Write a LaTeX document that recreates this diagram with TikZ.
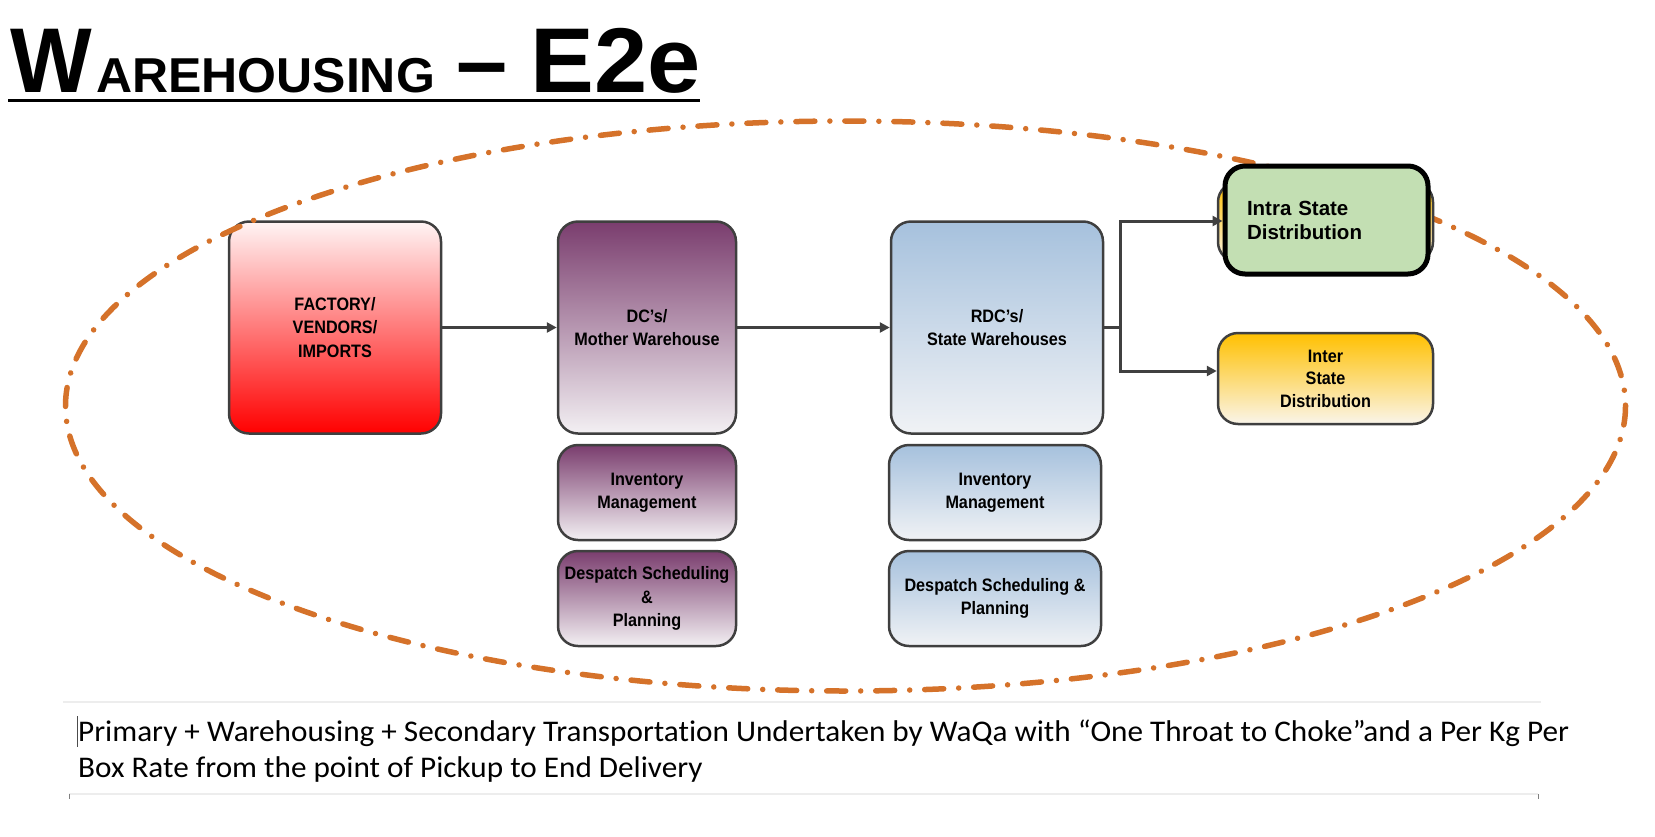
\documentclass[tikz,border=0pt]{standalone}
\usepackage{fontspec}
\usepackage{graphicx}
\setmainfont{Liberation Sans}
\newfontfamily\nar[FakeStretch=0.9]{Liberation Sans}
\newfontfamily\ars{Liberation Sans}
\newfontfamily\carl[FakeStretch=1.04,Ligatures=NoCommon]{Carlito}
\usetikzlibrary{arrows.meta,calc}
\definecolor{boxgray}{HTML}{3F3F3F}
\definecolor{arrgray}{HTML}{404040}
\definecolor{ellorange}{HTML}{D5722A}
\definecolor{facttop}{HTML}{FFF4F4}
\definecolor{factbot}{HTML}{FF0000}
\definecolor{dctop}{HTML}{7A3D6E}
\definecolor{dcbot}{HTML}{F3F0F3}
\definecolor{rdctop}{HTML}{A6C1DD}
\definecolor{rdcbot}{HTML}{F0F2F5}
\definecolor{intfill}{HTML}{C3DFB3}
\definecolor{yeltop}{HTML}{FFC000}
\definecolor{yelbot}{HTML}{FAF5EA}
\definecolor{faint}{HTML}{EDEDED}
\begin{document}
\begin{tikzpicture}[x=1pt,y=-1pt,
  box/.style={draw=boxgray, line width=2.5pt, rounded corners=20pt, align=center,
    inner sep=0pt, font=\nar\bfseries\fontsize{18}{23.3}\selectfont},
  bigbox/.style={box, minimum width=212pt, minimum height=212pt},
  smallbox/.style={box, minimum height=95pt},
  dcshade/.style={top color=dctop, bottom color=dcbot},
  rdcshade/.style={top color=rdctop, bottom color=rdcbot},
  arr/.style={draw=arrgray, line width=3pt, -{Triangle[length=10pt,width=10pt]}},
  conn/.style={draw=arrgray, line width=3pt},
  ellip/.style={draw=ellorange, line width=5.5pt, line cap=round,
    dash pattern=on 19pt off 15pt on 0.01pt off 15pt},
  titlepart/.style={anchor=base west, inner sep=0pt, font=\ars\bfseries}]
\useasboundingbox (0,0) rectangle (1655,836);

% title
\node[titlepart, font=\ars\bfseries\fontsize{92}{92}\selectfont] (tW) at (10,92) {\scalebox{0.94}[1]{W}};
\node[titlepart, font=\ars\bfseries\fontsize{49}{49}\selectfont] (tA) at (96,92) {\scalebox{1.02}[1]{AREHOUSING}};
\node[titlepart, font=\ars\bfseries\fontsize{92}{92}\selectfont] (tD) at (456,92) {–};
\node[titlepart, font=\ars\bfseries\fontsize{92}{92}\selectfont] (tE) at (530,92) {\scalebox{1.04}[1]{E2e}};
\coordinate (ulL) at (8,100);
\coordinate (ulR) at (700,100);
\draw[line width=3pt] (ulL) -- (ulR);

% main boxes
\node[bigbox, top color=facttop, bottom color=factbot] (factory) at (335,327.5) {FACTORY/\\VENDORS/\\IMPORTS};

% dash-dot ellipse
\draw[ellip] (845.5,406) ellipse [x radius=780, y radius=285];

\node[bigbox, dcshade, minimum width=178pt] (dc) at (647,327.5) {DC’s/\\Mother Warehouse};
\node[bigbox, rdcshade] (rdc) at (997,327.5) {RDC’s/\\State Warehouses};

\node[smallbox, dcshade, minimum width=178pt] (dcinv) at (647,492.5) {Inventory\\Management};
\node[smallbox, dcshade, minimum width=178pt] (dcdes) at (647,598.5) {Despatch Scheduling\\\&\\Planning};
\node[smallbox, rdcshade, minimum width=212pt] (rdcinv) at (995,492.5) {Inventory\\Management};
\node[smallbox, rdcshade, minimum width=212pt] (rdcdes) at (995,598.5) {Despatch Scheduling \&\\Planning};

% intra state (with yellow box behind)
\node[box, top color=yeltop, bottom color=yelbot, minimum width=215pt, minimum height=80pt] (intraback) at (1325.5,222) {};
\node[draw=black, line width=5pt, rounded corners=20pt, fill=intfill, minimum width=203pt, minimum height=108pt,
  inner sep=0pt, text width=159pt, align=left, font=\ars\bfseries\fontsize{20.5}{24}\selectfont] (intra) at (1326.5,220) {Intra State\\Distribution};

\node[box, top color=yeltop, bottom color=yelbot, minimum width=215pt, minimum height=91pt,
  font=\nar\bfseries\fontsize{18}{22.5}\selectfont] (inter) at (1325.5,378.5) {Inter\\State\\Distribution};

% connectors
\draw[arr] (factory.east) -- (dc.west);
\draw[arr] (dc.east) -- (rdc.west);
\coordinate (br) at (1120,327.5);
\draw[conn] (rdc.east) -- (br);
\draw[arr] (br) |- ($(intra.west)+(0,1)$);
\draw[arr] (br) |- ($(inter.west)+(0,-7.5)$);

% bottom text area
\coordinate (fa1) at (63,702);
\coordinate (fa2) at (1541,702);
\draw[faint, line width=1.5pt] (fa1) -- (fa2);
\coordinate (fb1) at (69,794);
\coordinate (fb2) at (1538,794);
\draw[faint, line width=1.5pt] (fb1) -- (fb2);
\coordinate (tk1) at (69,799);
\coordinate (tk2) at (1538,799);
\draw[gray, line width=0.8pt] (fb1) -- (tk1);
\draw[gray, line width=0.8pt] (fb2) -- (tk2);
\coordinate (cur1) at (77,716);
\coordinate (cur2) at (77,747);
\draw[black!70, line width=1pt] (cur1) -- (cur2);

\node[anchor=base west, inner sep=0pt, font=\carl\fontsize{30}{36}\selectfont] (txt1) at (78,741)
  {Primary + Warehousing + Secondary Transportation Undertaken by WaQa with “One Throat to Choke”and a Per Kg Per};
\node[anchor=base west, inner sep=0pt, font=\carl\fontsize{30}{36}\selectfont] (txt2) at (78,777)
  {Box Rate from the point of Pickup to End Delivery};
\end{tikzpicture}
\end{document}
